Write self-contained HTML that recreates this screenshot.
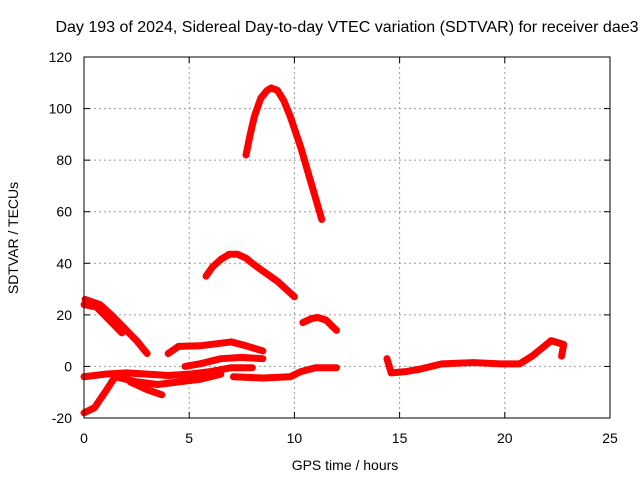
<!DOCTYPE html>
<html><head><meta charset="utf-8"><style>
body{margin:0;background:#fff}
svg text{font-family:"Liberation Sans",sans-serif;font-size:14px;fill:#000}
</style></head><body>
<svg id="c" width="640" height="480">
<text x="347" y="32" text-anchor="middle" style="font-size:16px">Day 193 of 2024, Sidereal Day-to-day VTEC variation (SDTVAR) for receiver dae3</text>
<g id="grid"></g><g id="marks"></g><g id="axes"></g>
<text x="345" y="470" text-anchor="middle">GPS time / hours</text>
<text transform="translate(18,238) rotate(-90)" text-anchor="middle">SDTVAR / TECUs</text>
</svg>
<script>
const xTicks=[0,5,10,15,20,25];
const yTicks=[-20,0,20,40,60,80,100,120];
const trackA=[[7.7,82],[7.9,90],[8.1,97],[8.4,104],[8.7,107],[8.9,108],[9.2,107],[9.5,103],[9.8,97],[10.3,85],[10.8,71],[11.3,57]];
const trackB=[[5.8,35],[6.1,38.5],[6.5,41.5],[6.9,43.5],[7.3,43.5],[7.7,42],[8.0,40],[8.5,37],[9.2,33],[10.0,27]];
const trackC=[[10.4,17],[10.8,18.5],[11.1,19],[11.5,18],[12.0,14]];
const trackD=[[0.05,26],[0.75,24],[1.3,20],[1.9,15],[2.5,10],[3.0,5]];
const trackD2=[[0,24],[0.6,23],[1.2,18],[1.8,13]];
const trackE=[[4.0,5],[4.5,7.8],[5.5,8],[7.0,9.5],[7.7,8],[8.5,6]];
const trackF=[[4.8,0],[5.5,1],[6.5,3],[7.5,3.5],[8.5,3]];
const trackG1=[[0,-4],[1,-3],[2,-2.5],[3,-3],[4,-3.5],[5,-3],[6,-2],[7,-0.5],[8,-0.5]];
const trackG2=[[1.5,-4],[2.5,-6],[3.5,-7],[4.5,-6],[5.5,-5],[6.5,-3]];
const trackH=[[0,-18],[0.5,-16],[1,-10],[1.4,-5]];
const trackI=[[2.2,-6],[3,-9],[3.7,-11]];
const trackJ=[[7.1,-4],[8.5,-4.5],[9.8,-4],[10.3,-2],[11,-0.5],[12,-0.5]];
const trackK=[[14.4,3],[14.6,-2.5],[15.3,-2],[16,-1],[17,1],[18.5,1.5],[19.8,1],[20.7,1],[21.3,4],[21.9,8],[22.2,10],[22.8,8.5],[22.7,4]];
const tracks=[trackA,trackB,trackC,trackD,trackD2,trackE,trackF,trackG1,trackG2,trackH,trackI,trackJ,trackK];
const X0=84,X1=610,Y0=418,Y1=57;
const sx=v=>X0+(v-0)/25*(X1-X0);
const sy=v=>Y0-(v+20)/140*(Y0-Y1);
const NS="http://www.w3.org/2000/svg";
const mk=(t,a,p)=>{const e=document.createElementNS(NS,t);for(const k in a)e.setAttribute(k,a[k]);p.appendChild(e);return e;};
const grid=document.getElementById('grid'),axes=document.getElementById('axes'),marks=document.getElementById('marks');
xTicks.forEach(t=>{
  if(t>0&&t<25){const l=mk('line',{x1:sx(t),x2:sx(t),y1:Y1,y2:Y0,stroke:'#999','stroke-dasharray':'2,3'},grid);
  
  }
  const tx=mk('text',{x:sx(t),y:Y0+25,'text-anchor':'middle'},axes);tx.textContent=t;
  
  
  mk('line',{x1:sx(t),x2:sx(t),y1:Y0,y2:Y0-6,stroke:'#000'},axes);
  mk('line',{x1:sx(t),x2:sx(t),y1:Y1,y2:Y1+6,stroke:'#000'},axes);
});
yTicks.forEach(t=>{
  if(t>-20&&t<120){const l=mk('line',{x1:X0,x2:X1,y1:sy(t),y2:sy(t),stroke:'#999','stroke-dasharray':'2,3'},grid);
  
  }
  const tx=mk('text',{x:X0-12,y:sy(t)+5,'text-anchor':'end'},axes);tx.textContent=t;
  
  
  mk('line',{x1:X0,x2:X0+6,y1:sy(t),y2:sy(t),stroke:'#000'},axes);
  mk('line',{x1:X1,x2:X1-6,y1:sy(t),y2:sy(t),stroke:'#000'},axes);
});
const fr=mk('rect',{x:X0,y:Y1,width:X1-X0,height:Y0-Y1,fill:'none',stroke:'#000'},axes);


tracks.forEach(tr=>{
  const p=mk('polyline',{points:tr.map(d=>sx(d[0])+','+sy(d[1])).join(' '),fill:'none',stroke:'#f00','stroke-width':7,'stroke-linejoin':'round','stroke-linecap':'round'},marks);
  
  
});
</script>
</body></html>
